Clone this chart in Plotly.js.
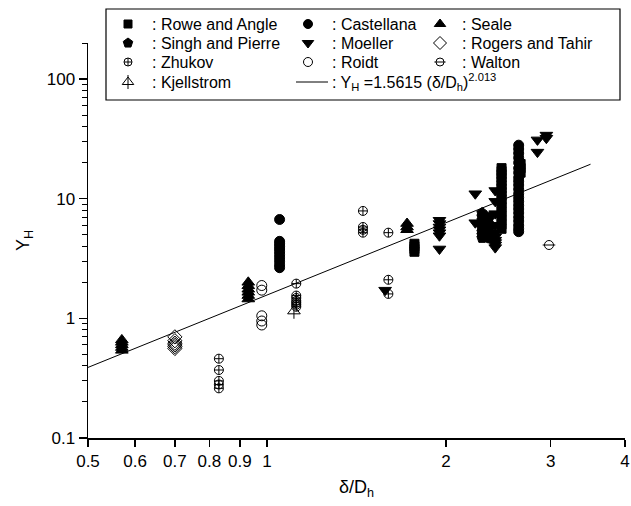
<!DOCTYPE html>
<html>
<head>
<meta charset="utf-8">
<script src="https://cdn.plot.ly/plotly-3.0.1.min.js"></script>
<style>html,body{margin:0;padding:0;background:#fff;}#chart{width:631px;height:506px;}</style>
</head>
<body>
<div id="chart"></div>
<script>
// ---- Data ----
const roweX = [1.77,1.77,1.77,1.77, 2.48,2.48,2.48,2.48,2.48,2.48,2.48,2.48,2.48,2.48,2.48,2.48,2.48,2.48,2.48,2.48,2.48, 2.67,2.67,2.67];
const roweY = [4.2,4.0,3.8,3.6, 18,17,16,15,14,13,12.2,11.4,10.6,9.9,9.2,8.5,7.8,7.2,6.6,6.1,5.6, 19.5,18,16.5];

const castX = [1.05,1.05,1.05,1.05,1.05,1.05,1.05,1.05,1.05,1.05,1.05, 2.36,2.36,2.36,2.36,2.36,
  2.65,2.65,2.65,2.65,2.65,2.65,2.65,2.65,2.65,2.65,2.65,2.65,2.65,2.65,2.65,2.65,2.65,2.65,2.65,2.65,2.65,2.65];
const castY = [6.7,4.4,4.2,4.0,3.8,3.6,3.4,3.2,3.0,2.8,2.65, 7.0,6.2,5.5,5.0,4.7,
  28,26,24,22,20,18,16.5,15,14,13,12,11,10.2,9.5,8.8,8.2,7.6,7.0,6.5,6.0,5.6,5.3];

const sealeX = [0.57,0.57,0.57,0.57,0.57, 0.93,0.93,0.93,0.93,0.93,0.93, 1.72,1.72,1.72];
const sealeY = [0.54,0.57,0.60,0.63,0.66, 1.45,1.55,1.65,1.75,1.87,2.0, 5.5,5.8,6.2];

const singhX = [2.30,2.30,2.30,2.30,2.30,2.30,2.30,2.30];
const singhY = [7.6,7.1,6.6,6.1,5.7,5.3,5.0,4.7];

const moellerX = [1.58, 1.95,1.95,1.95,1.95,1.95,1.95,1.95, 2.24,2.24,
  2.42,2.42,2.42,2.42,2.42,2.42,2.42,2.42,2.42,2.42, 2.85,2.85, 2.95,2.95];
const moellerY = [1.72, 6.6,6.2,5.8,5.5,5.2,4.9,3.8, 11,6.3,
  11.7,9.5,7.5,6.0,5.2,4.8,4.5,4.3,4.1,3.9, 31,24.5, 34,32];

const rogersX = [0.70,0.70,0.70,0.70,0.70,0.70];
const rogersY = [0.70,0.65,0.62,0.60,0.58,0.56];

const zhukovX = [0.83,0.83,0.83,0.83,0.83, 1.12,1.12,1.12,1.12,1.12,1.12,1.12, 1.45,1.45,1.45,1.45, 1.60,1.60,1.60];
const zhukovY = [0.46,0.37,0.30,0.28,0.26, 1.95,1.55,1.48,1.40,1.35,1.30,1.25, 7.9,5.8,5.5,5.2, 5.2,2.1,1.6];

const roidtX = [0.98,0.98,0.98,0.98,0.98];
const roidtY = [1.88,1.72,1.05,0.95,0.88];

const waltonX = [2.98];
const waltonY = [4.1];

const kjellX = [1.11];
const kjellY = [1.15];

const fitX = [0.5, 3.5];
const fitY = [0.389, 19.4];

const seriesNames = [": Rowe and Angle", ": Castellana", ": Seale", ": Singh and Pierre", ": Moeller",
  ": Rogers and Tahir", ": Zhukov", ": Roidt", ": Walton", ": Kjellstrom"];
const fitName = ": Y<sub>H</sub> =1.5615 (δ/D<sub>h</sub>)<sup>2.013</sup>";

const xTicks = [0.5,0.6,0.7,0.8,0.9,1,2,3,4];
const yTicks = [0.1,1,10,100];

// ---- Styles ----
const K = '#000';
const FONT = 'Liberation Sans, Arial, Helvetica, sans-serif';
const LEGFONT = 16;
const series = [
  {x: roweX, y: roweY, sym: ['square'], size: 9},
  {x: castX, y: castY, sym: ['circle'], size: 10},
  {x: sealeX, y: sealeY, sym: ['triangle-up'], size: 11},
  {x: singhX, y: singhY, sym: ['pentagon'], size: 11},
  {x: moellerX, y: moellerY, sym: ['triangle-down'], size: 11},
  {x: rogersX, y: rogersY, sym: ['diamond-open'], size: 11},
  {x: zhukovX, y: zhukovY, sym: ['circle-cross-open'], size: 9},
  {x: roidtX, y: roidtY, sym: ['circle-open'], size: 10},
  {x: waltonX, y: waltonY, sym: ['circle-open', 'line-ew-open'], size: 9},
  {x: kjellX, y: kjellY, sym: ['triangle-up-open', 'line-ns-open'], size: 11}
];

const traces = [];
series.forEach(s => {
  s.sym.forEach(sym => {
    traces.push({
      type: 'scatter', mode: 'markers', x: s.x, y: s.y, showlegend: false, hoverinfo: 'skip',
      marker: {symbol: sym, size: s.size, color: K, line: {color: K, width: 1}}
    });
  });
});
traces.push({type: 'scatter', mode: 'lines', x: fitX, y: fitY, showlegend: false,
  line: {color: K, width: 1}});

// ---- Legend (pixel coordinates on a separate full-height subplot) ----
const legRows = [24, 43, 62, 82];
const legSymX = [128, 308, 440];
const legTxtX = [150, 330, 460];
const legPos = [[0,0],[1,0],[2,0],[0,1],[1,1],[2,1],[0,2],[1,2],[2,2],[0,3]];
const annotations = [];
series.forEach((s, i) => {
  const [c, r] = legPos[i];
  s.sym.forEach(sym => {
    traces.push({type: 'scatter', mode: 'markers', xaxis: 'x2', yaxis: 'y2',
      x: [legSymX[c]], y: [legRows[r]], showlegend: false, hoverinfo: 'skip',
      marker: {symbol: sym, size: s.size - 1, color: K, line: {color: K, width: 1}}});
  });
  annotations.push({xref: 'x2', yref: 'y2', x: legTxtX[c], y: legRows[r], text: seriesNames[i],
    showarrow: false, xanchor: 'left', yanchor: 'middle', font: {family: FONT, size: LEGFONT, color: K}});
});
traces.push({type: 'scatter', mode: 'lines', xaxis: 'x2', yaxis: 'y2',
  x: [296, 328], y: [legRows[3], legRows[3]], showlegend: false, hoverinfo: 'skip',
  line: {color: K, width: 1}});
annotations.push({xref: 'x2', yref: 'y2', x: 330, y: legRows[3], text: fitName,
  showarrow: false, xanchor: 'left', yanchor: 'middle', font: {family: FONT, size: LEGFONT, color: K}});

const minorY = [];
[0.1, 1, 10, 100].forEach(d => { for (let k = 2; k <= 9; k++) { if (d*k <= 200) minorY.push(d*k); } });

const PLOT_TOP = 43, PLOT_BOTTOM = 438;

const layout = {
  width: 631, height: 506,
  margin: {l: 88, r: 6, t: 0, b: 506 - PLOT_BOTTOM},
  paper_bgcolor: '#fff', plot_bgcolor: 'rgba(0,0,0,0)',
  showlegend: false,
  font: {family: FONT, size: 16, color: K},
  xaxis: {
    type: 'log', range: [Math.log10(0.5), Math.log10(4)], anchor: 'y',
    tickmode: 'array', tickvals: xTicks, ticktext: xTicks.map(String),
    ticks: 'outside', ticklen: 7, tickwidth: 1.5, tickcolor: K,
    showline: true, linewidth: 1.5, linecolor: K, showgrid: false, zeroline: false,
    tickfont: {family: FONT, size: 17, color: K},
    title: {text: 'δ/D<sub>h</sub>', font: {family: FONT, size: 18, color: K}, standoff: 10}
  },
  yaxis: {
    type: 'log', range: [-1, Math.log10(200)], anchor: 'x',
    domain: [0, (PLOT_BOTTOM - PLOT_TOP) / PLOT_BOTTOM],
    tickmode: 'array', tickvals: yTicks, ticktext: ['0.1','1','10','100'],
    ticks: 'outside', ticklen: 8, tickwidth: 1.5, tickcolor: K,
    minor: {tickmode: 'array', tickvals: minorY, ticks: 'outside', ticklen: 5, tickwidth: 1, tickcolor: K, showgrid: false},
    showline: true, linewidth: 1.5, linecolor: K, showgrid: false, zeroline: false,
    tickfont: {family: FONT, size: 17, color: K},
    title: {text: 'Y<sub>H</sub>', font: {family: FONT, size: 18, color: K}, standoff: 12}
  },
  xaxis2: {domain: [0, 1], anchor: 'y2', range: [88, 625], visible: false, fixedrange: true},
  yaxis2: {domain: [0, 1], anchor: 'x2', range: [PLOT_BOTTOM, 0], visible: false, fixedrange: true},
  shapes: [{type: 'rect', xref: 'x2', yref: 'y2', x0: 106, x1: 620, y0: 9, y1: 100,
    line: {color: K, width: 1.2}, fillcolor: 'rgba(0,0,0,0)', layer: 'below'}],
  annotations: annotations
};

Plotly.newPlot('chart', traces, layout, {displayModeBar: false, staticPlot: true});
</script>
</body>
</html>
